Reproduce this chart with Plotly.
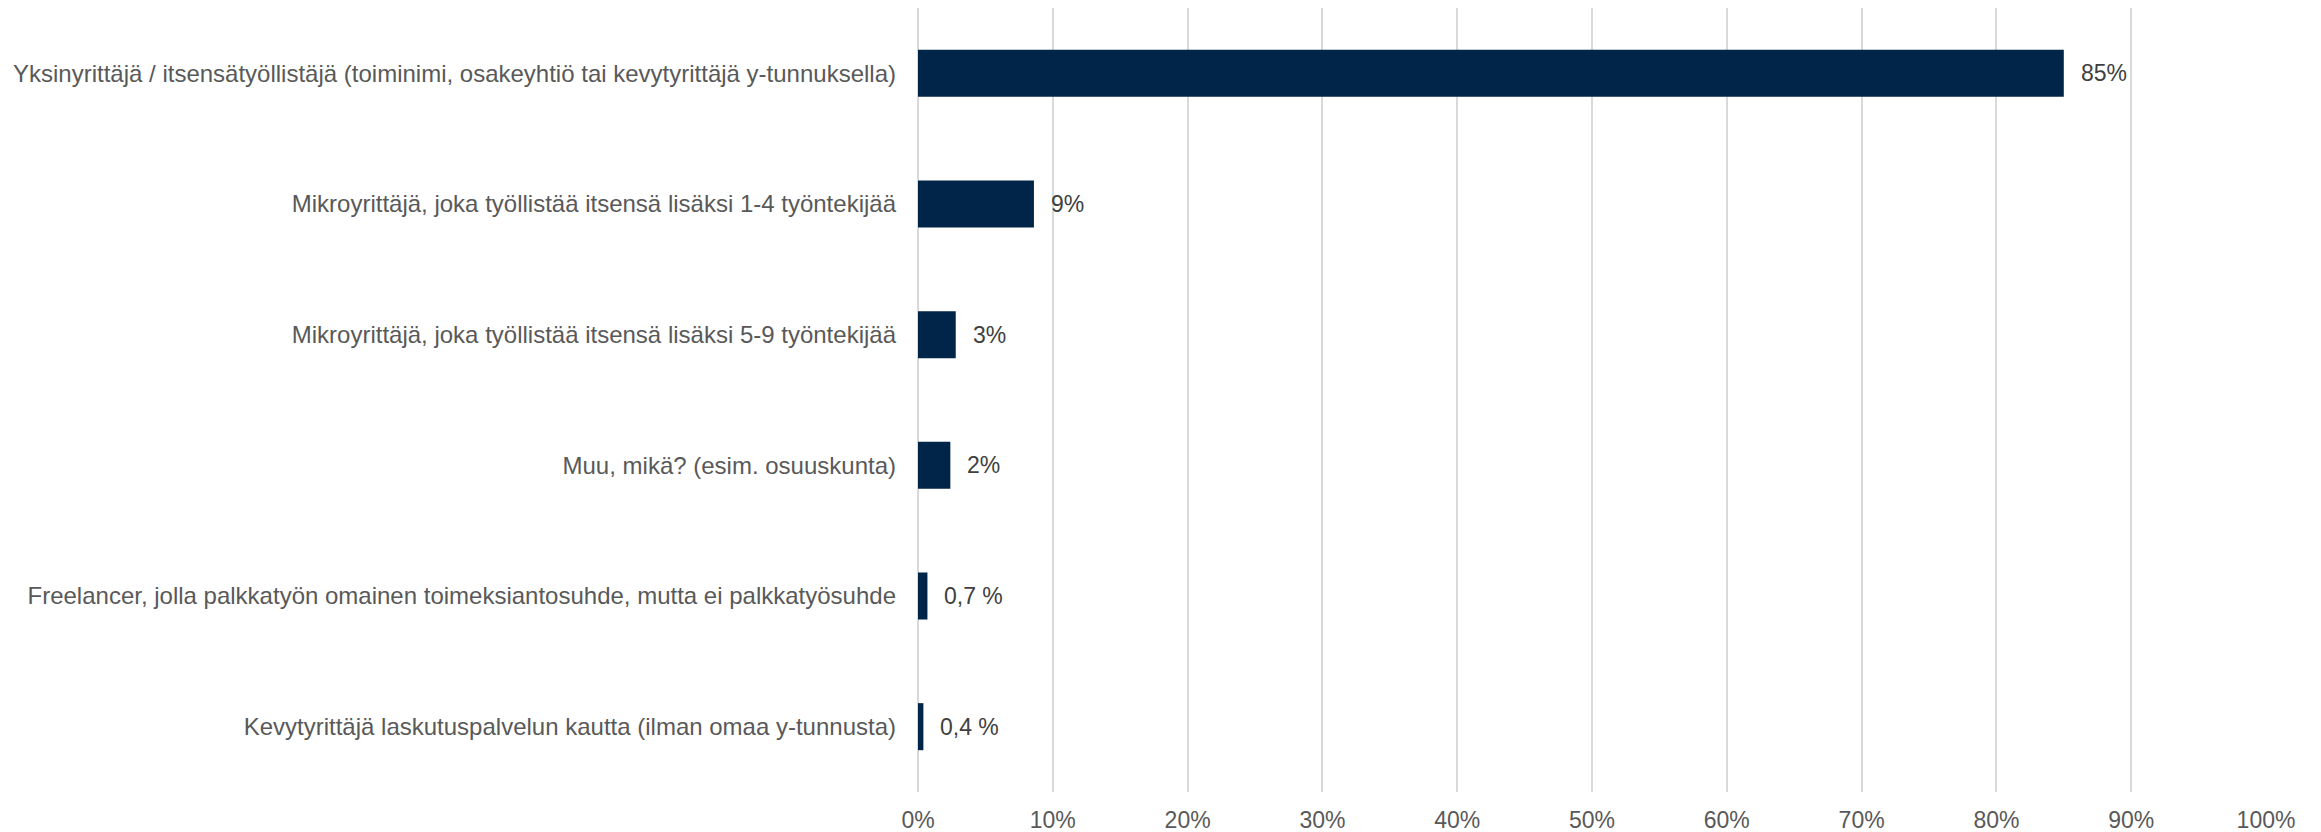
import plotly.graph_objects as go

categories = [
    "Yksinyrittäjä / itsensätyöllistäjä (toiminimi, osakeyhtiö tai kevytyrittäjä y-tunnuksella)",
    "Mikroyrittäjä, joka työllistää itsensä lisäksi 1-4 työntekijää",
    "Mikroyrittäjä, joka työllistää itsensä lisäksi 5-9 työntekijää",
    "Muu, mikä? (esim. osuuskunta)",
    "Freelancer, jolla palkkatyön omainen toimeksiantosuhde, mutta ei palkkatyösuhde",
    "Kevytyrittäjä laskutuspalvelun kautta (ilman omaa y-tunnusta)",
]
values = [85.0, 8.6, 2.8, 2.4, 0.7, 0.4]
value_labels = ["85%", "9%", "3%", "2%", "0,7 %", "0,4 %"]
tick_vals = [0, 10, 20, 30, 40, 50, 60, 70, 80, 90, 100]
tick_text = ["0%", "10%", "20%", "30%", "40%", "50%", "60%", "70%", "80%", "90%", "100%"]

FONT = "Liberation Sans, Arial, sans-serif"
BAR = "#002549"
TEXT = "#595959"
GRID = "#d9d9d9"

fig = go.Figure(go.Bar(
    x=values, y=categories, orientation="h",
    marker=dict(color=BAR, line=dict(width=0)),
    hoverinfo="skip",
))

for c, v, t in zip(categories, values, value_labels):
    fig.add_annotation(x=v, y=c, text=t, showarrow=False, xanchor="left",
                       xshift=15, font=dict(family=FONT, size=23, color="#404040"))

fig.update_layout(
    width=2321, height=832,
    margin=dict(l=918, r=55, t=8, b=40, pad=0),
    paper_bgcolor="white", plot_bgcolor="white",
    bargap=0.64,
    showlegend=False,
    font=dict(family=FONT, size=23, color=TEXT),
)
fig.update_xaxes(
    range=[0, 100], tickvals=tick_vals, ticktext=tick_text,
    showgrid=True, gridcolor=GRID, gridwidth=2,
    zeroline=True, zerolinecolor=GRID, zerolinewidth=2,
    showline=False, ticks="", ticklabelstandoff=12, automargin=False,
    tickfont=dict(family=FONT, size=23, color=TEXT),
)
fig.update_yaxes(
    autorange="reversed", showgrid=False, zeroline=False, showline=False,
    ticks="", ticklabelstandoff=21, automargin=False,
    tickfont=dict(family=FONT, size=24, color=TEXT),
)

fig.write_html("out.html", config={"displayModeBar": False},
               post_script="document.body.style.margin='0';")
